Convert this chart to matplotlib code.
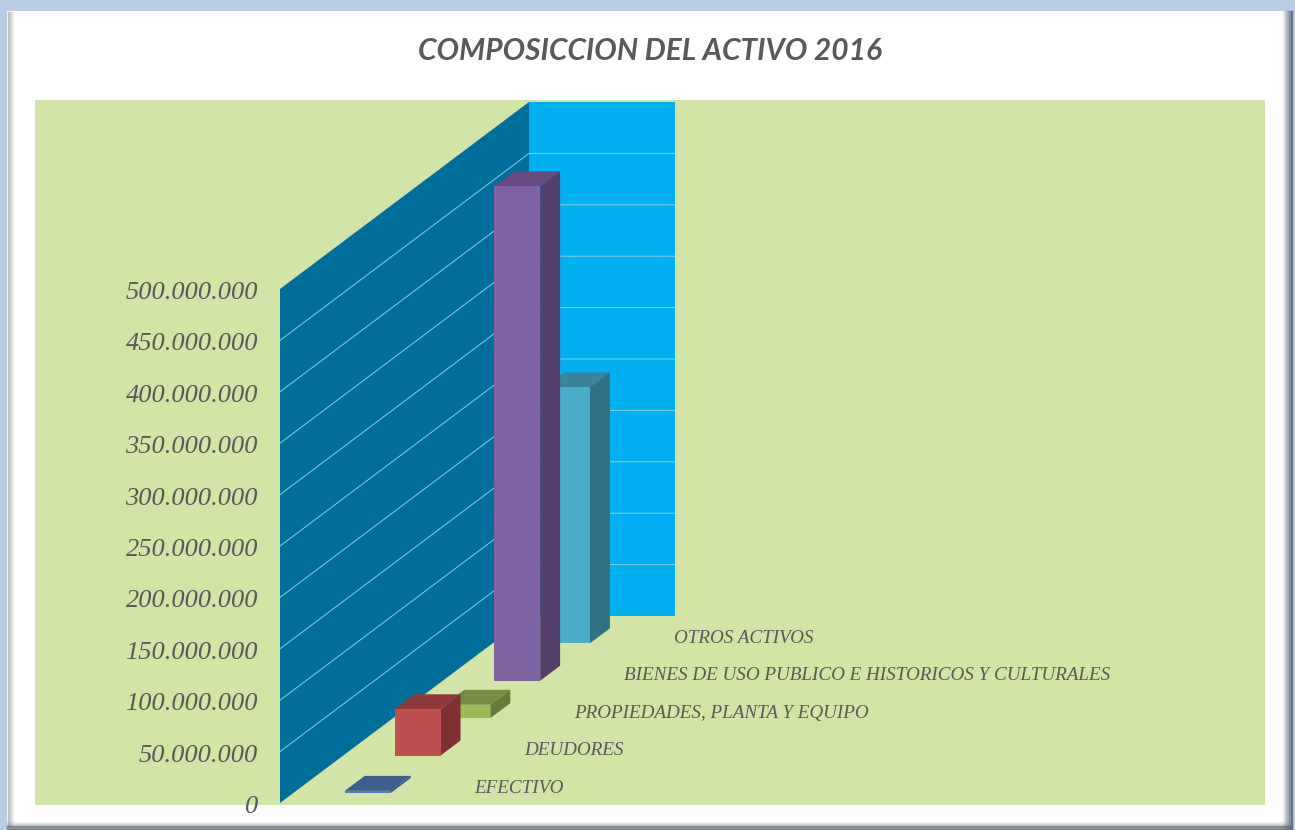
import matplotlib
matplotlib.use("Agg")
import matplotlib.pyplot as plt
from matplotlib.patches import Rectangle

# data (millions)
categories = ["EFECTIVO", "DEUDORES", "PROPIEDADES, PLANTA Y EQUIPO",
              "BIENES DE USO PUBLICO E HISTORICOS Y CULTURALES", "OTROS ACTIVOS"]
values = [2, 45, 13, 481, 249]
ticks = [0, 50, 100, 150, 200, 250, 300, 350, 400, 450, 500]
tick_labels = ["0", "50.000.000", "100.000.000", "150.000.000", "200.000.000", "250.000.000",
               "300.000.000", "350.000.000", "400.000.000", "450.000.000", "500.000.000"]
front_colors = ["#4f81bd", "#c0504d", "#9bbb59", "#8064a2", "#4bacc6"]
top_colors = ["#3b6090", "#8f3a38", "#748c43", "#664a80", "#3a8499"]
side_colors = ["#35557f", "#7d302e", "#667a3a", "#533f69", "#317085"]

# oblique projection: u = across wall (0-1), depth = series position (0-5), v = value
X0, Y0 = 280, 803
WALL_W = 145.5
DX, DY = 49.8, 37.4
SCALE = 1.028


def proj(u, depth, v):
    return X0 + u * WALL_W + depth * DX, Y0 - depth * DY - v * SCALE


def face(points, color, z):
    xy = [proj(*p) for p in points]
    ax.fill([p[0] for p in xy], [p[1] for p in xy], facecolor=color, edgecolor="none", zorder=z)


fig = plt.figure(figsize=(12.95, 8.30), dpi=100)
ax = fig.add_axes([0, 0, 1, 1])
ax.set_xlim(0, 1295)
ax.set_ylim(830, 0)
ax.axis("off")

# picture frame
ax.add_patch(Rectangle((0, 0), 1295, 830, facecolor="#b9cde5", edgecolor="none", zorder=0))
ax.add_patch(Rectangle((7, 11), 1284, 815, facecolor="white", edgecolor="none", zorder=1))
for k in range(6):
    a = 0.55 * (1 - k / 6)
    ax.plot([7.5 + k, 7.5 + k], [12, 826], color="#808080", alpha=a * 0.8, lw=1, zorder=2)
for k in range(10):
    a = 0.85 * (1 - k / 10)
    ax.plot([1291.5 - k, 1291.5 - k], [11, 830], color="#5a6a80", alpha=a, lw=1, zorder=2)
    ax.plot([7, 1291], [829.5 - k * 0.8, 829.5 - k * 0.8], color="#6a6a6a", alpha=a * 0.8, lw=1, zorder=2)

# plot background
ax.add_patch(Rectangle((35, 100), 1230, 705, facecolor="#d2e4a6", edgecolor="none", zorder=2))

# walls
top = ticks[-1]
face([(0, 0, 0), (0, 5, 0), (0, 5, top), (0, 0, top)], "#006e9b", 3)
face([(0, 5, 0), (1, 5, 0), (1, 5, top), (0, 5, top)], "#00b0f0", 3)

# gridlines
for t in ticks[1:-1]:
    xs, ys = zip(proj(0, 0, t), proj(0, 5, t), proj(1, 5, t))
    ax.plot(xs, ys, color="#8fcde0", lw=0.7, zorder=4)

# bars, back to front
u0, u1 = 0.353, 0.669
d0, d1 = 0.27, 0.67
for i in range(len(values) - 1, -1, -1):
    v = values[i]
    z = 10 + (len(values) - i)
    face([(u0, i + d0, v), (u1, i + d0, v), (u1, i + d1, v), (u0, i + d1, v)], top_colors[i], z)
    face([(u1, i + d0, 0), (u1, i + d1, 0), (u1, i + d1, v), (u1, i + d0, v)], side_colors[i], z)
    face([(u0, i + d0, 0), (u1, i + d0, 0), (u1, i + d0, v), (u0, i + d0, v)], front_colors[i], z)

# value labels
for t, lab in zip(ticks, tick_labels):
    x, y = proj(0, 0, t)
    ax.text(x - 22, y + 4, lab, ha="right", va="center", family="Liberation Serif",
            style="italic", fontsize=19, color="#595959", zorder=20)

# depth axis labels
for i, lab in enumerate(categories):
    x, y = proj(1, i, 0)
    ax.text(x + 49, y - 15, lab, ha="left", va="center", family="Liberation Serif",
            style="italic", fontsize=13.75, color="#595959", zorder=20)

ax.text(650, 51, "COMPOSICCION DEL ACTIVO 2016", ha="center", va="center", family="Lato",
        style="italic", weight="bold", fontsize=21.5, color="#595959", zorder=20)

fig.savefig("out.png", dpi=100)
